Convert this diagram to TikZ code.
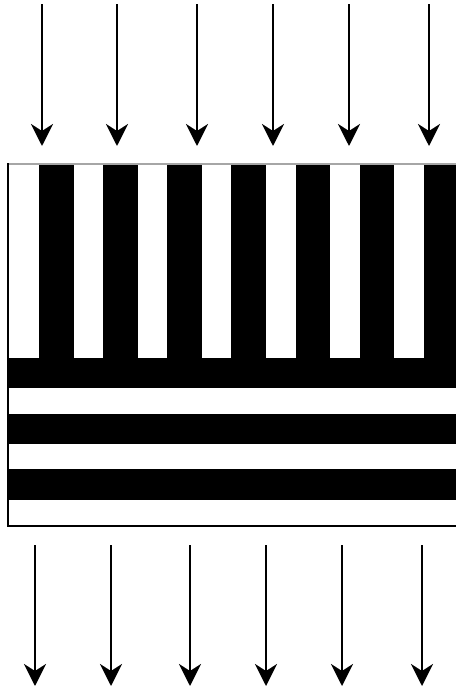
\documentclass[tikz,border=0pt]{standalone}
\usetikzlibrary{arrows.meta}
\tikzset{
  flow/.style={line width=2.8pt,-{Stealth[length=22pt 0,width=22pt 0,inset=7pt 0]}},
  band/.style={fill=black},
}
\begin{document}
\begin{tikzpicture}[x=1pt,y=-1pt]
\useasboundingbox (0,0) rectangle (456,691);
\fill[white] (0,0) rectangle (456,691);
% vertical black stripes
\foreach \a/\b in {39/74,103/138,167/202,231/266,296/330,360/394,424/456}
  \fill[band] (\a,164) rectangle (\b,358);
% horizontal black bands
\foreach \a/\b in {358/388,414/444,469/500}
  \fill[band] (8,\a) rectangle (456,\b);
% box frame
\draw[gray!70,line width=1.5pt] (7,164) -- (456,164);
\draw[black,line width=2.5pt] (8,163) -- (8,527);
\draw[black,line width=2pt] (7,526) -- (456,526);
% top arrows
\foreach \x [count=\i] in {42,117,197,273,349,429}{
  \coordinate (ts\i) at (\x,4);
  \coordinate (te\i) at (\x,146);
  \draw[flow] (ts\i) -- (te\i);
}
% bottom arrows
\foreach \x [count=\i] in {35,111,190,266,342,422}{
  \coordinate (bs\i) at (\x,545);
  \coordinate (be\i) at (\x,686);
  \draw[flow] (bs\i) -- (be\i);
}
\end{tikzpicture}
\end{document}
